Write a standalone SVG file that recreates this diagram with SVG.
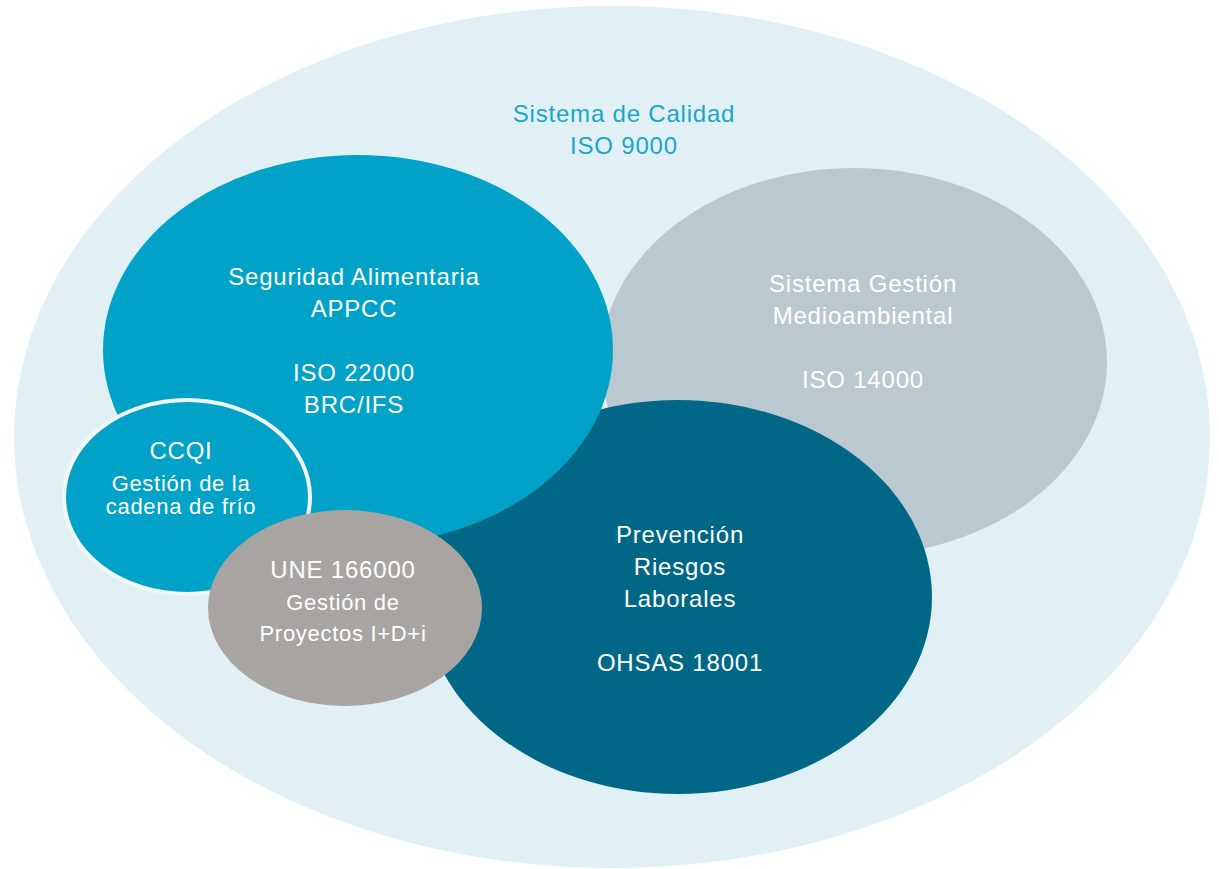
<svg xmlns="http://www.w3.org/2000/svg" width="1219" height="869" viewBox="0 0 1219 869">
<style>
text{font-family:"Liberation Sans",Arial,sans-serif;text-anchor:middle;fill:#ffffff}
.t24{font-size:24px;letter-spacing:0.8px}
.t22{font-size:22px;letter-spacing:0.7px}
.title{fill:#1aa5cb}
</style>
<rect width="1219" height="869" fill="#ffffff"/>
<g id="calidad">
<ellipse cx="612" cy="437" rx="598" ry="431" fill="#e1f0f4"/>
<text class="t24 title" x="624" y="122">Sistema de Calidad</text>
<text class="t24 title" x="624" y="154">ISO 9000</text>
</g>
<g id="medioambiental">
<ellipse cx="854" cy="362" rx="253" ry="194" fill="#bac8d0"/>
<text class="t24" x="863" y="292">Sistema Gestión</text>
<text class="t24" x="863" y="324">Medioambiental</text>
<text class="t24" x="863" y="388">ISO 14000</text>
</g>
<g id="prevencion">
<ellipse cx="678" cy="597" rx="254" ry="197" fill="#006886"/>
<text class="t24" x="680" y="543">Prevención</text>
<text class="t24" x="680" y="575">Riesgos</text>
<text class="t24" x="680" y="607">Laborales</text>
<text class="t24" x="680" y="671">OHSAS 18001</text>
</g>
<g id="seguridad">
<ellipse cx="358" cy="350" rx="255" ry="195" fill="#00a3c7"/>
<text class="t24" x="354" y="285">Seguridad Alimentaria</text>
<text class="t24" x="354" y="317">APPCC</text>
<text class="t24" x="354" y="381">ISO 22000</text>
<text class="t24" x="354" y="413">BRC/IFS</text>
</g>
<g id="ccqi">
<ellipse cx="187" cy="497" rx="123" ry="97" fill="#00a3c7" stroke="#f0f8fa" stroke-width="4"/>
<text class="t24" x="181" y="459">CCQI</text>
<text class="t22" x="181" y="491">Gestión de la</text>
<text class="t22" x="181" y="514">cadena de frío</text>
</g>
<g id="une">
<ellipse cx="345" cy="608" rx="137" ry="98" fill="#a8a4a2"/>
<text class="t24" x="343" y="578">UNE 166000</text>
<text class="t22" x="343" y="610">Gestión de</text>
<text class="t22" x="343" y="641">Proyectos I+D+i</text>
</g>
<g id="connectors"></g>
</svg>
